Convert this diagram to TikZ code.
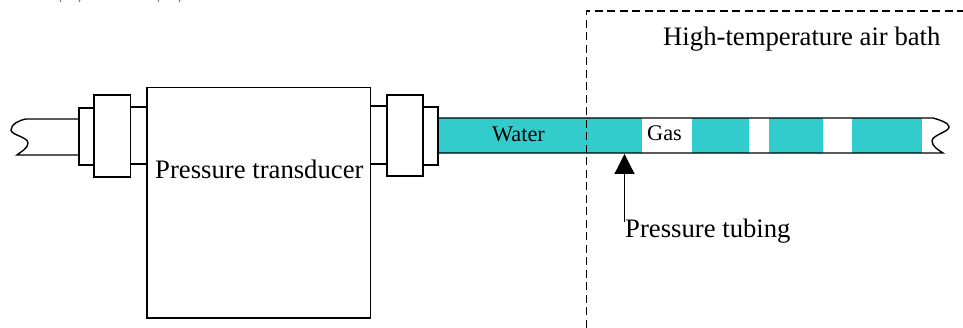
\documentclass[tikz,border=0pt]{standalone}
\usepackage{fontspec}
\setmainfont{Liberation Serif}
\usetikzlibrary{arrows.meta}
\definecolor{watercol}{RGB}{51,204,204}
\tikzset{
  x=1pt,y=-1pt,
  part/.style={draw=black,line width=1.3pt,fill=white,line join=miter},
  tube/.style={draw=black,line width=1.4pt},
  lbl/.style={inner sep=0pt,anchor=base west,text=black},
  biglbl/.style={lbl,font=\fontsize{26.7pt}{30pt}\selectfont},
  smalllbl/.style={lbl,font=\fontsize{22.3pt}{26pt}\selectfont},
  clipmark/.style={draw=black!55,line width=0.9pt},
}
\begin{document}
\begin{tikzpicture}
\useasboundingbox (0,0) rectangle (963,328);
% water slugs
\fill[watercol] (438,118) rectangle (642,153);
\fill[watercol] (692,118) rectangle (749,153);
\fill[watercol] (769,118) rectangle (823,153);
\fill[watercol] (852,118) rectangle (922,153);
% tube walls
\coordinate (tl) at (438,118);
\coordinate (tr) at (933,118);
\coordinate (bl) at (438,153);
\coordinate (br) at (943,153);
\draw[tube] (tl) -- (tr) .. controls (940,120) and (949,123) .. (949,127)
  .. controls (949,132) and (932,135) .. (932,141)
  .. controls (932,146) and (938,150) .. (br) -- (bl);
\coordinate (ltt) at (79,119);
\coordinate (ltb) at (79,155);
\draw[tube] (ltt) -- (26,119) .. controls (20,120) and (11,124) .. (11,130)
  .. controls (11,135) and (28,137) .. (28,143)
  .. controls (28,149) and (20,152) .. (17,155) -- (ltb);
% fittings
\draw[part] (79,108) rectangle (94,165);
\draw[part] (130.3,107) rectangle (147,164);
\draw[part] (94,95) rectangle (130.3,177);
\draw[part] (370.5,106) rectangle (387,164);
\draw[part] (423,107) rectangle (438,165);
\draw[part] (387,95) rectangle (423,176);
% transducer
\draw[part] (147,87.3) rectangle (370.5,318);
% clipped remains along the top edge
\draw[clipmark] (60,0) -- (61,2);
\draw[clipmark] (80,0) -- (79,2);
\draw[clipmark] (158,0) -- (159,2);
\draw[clipmark] (180,0) -- (179,2);
% bath
\coordinate (bath1) at (586.5,328);
\coordinate (bath2) at (586.5,11);
\coordinate (bath3) at (963,11);
\draw[black,line width=1.15pt,dash pattern=on 8pt off 4.5pt] (bath1) -- (bath2) -- (bath3);
% labels
\node[biglbl] (l1) at (155,179) {Pressure transducer};
\node[biglbl] (l2) at (663,45.5) {High-temperature air bath};
\node[biglbl] (l3) at (625,238) {Pressure tubing};
\node[smalllbl] (l4) at (492,142) {Water};
\node[smalllbl] (l5) at (647,141) {Gas};
% arrow
\coordinate (tip) at (624.5,154);
\coordinate (tail) at (624.5,222.5);
\draw[line width=1.2pt,-{Triangle[length=20pt,width=20pt]}] (tail) -- (tip);
\end{tikzpicture}
\end{document}
